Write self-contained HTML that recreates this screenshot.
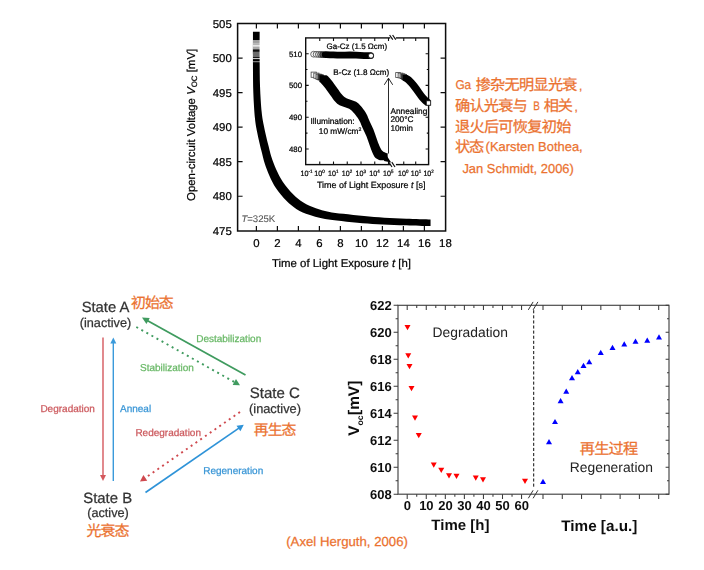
<!DOCTYPE html>
<html><head><meta charset="utf-8"><title>LID</title>
<style>
html,body{margin:0;padding:0;background:#fff;}
body{width:704px;height:570px;overflow:hidden;font-family:"Liberation Sans",sans-serif;}
svg{display:block;position:absolute;left:0;top:0;}
svg text{font-family:"Liberation Sans",sans-serif;text-rendering:geometricPrecision;}
svg text.cjk{font-family:"Liberation Sans","Noto Sans CJK SC",sans-serif;}
.tk text{stroke:#000;stroke-width:0.22px;fill:#000;}
.dg text{stroke-width:0.25px;}
.og text{stroke:#EB7230;stroke-width:0.25px;}
.tk text.gr{fill:#555;stroke:#555;stroke-width:0.1px;}
</style></head><body>
<svg width="704" height="570" viewBox="0 0 704 570">
<filter id="b1" x="-5%" y="-5%" width="110%" height="110%"><feGaussianBlur stdDeviation="0.65"/></filter>
<filter id="b2" x="-5%" y="-5%" width="110%" height="110%"><feGaussianBlur stdDeviation="0.75"/></filter>
<filter id="b0" x="-5%" y="-5%" width="110%" height="110%"><feGaussianBlur stdDeviation="0.3"/></filter>
<g class="tk" filter="url(#b1)"><rect x="237.60" y="23.50" width="208.00" height="207.50" fill="none" stroke="#111" stroke-width="1.5"/>
<path d="M256.40 23.50 v5 M256.40 231.00 v-5 M277.40 23.50 v5 M277.40 231.00 v-5 M298.40 23.50 v5 M298.40 231.00 v-5 M319.40 23.50 v5 M319.40 231.00 v-5 M340.40 23.50 v5 M340.40 231.00 v-5 M361.40 23.50 v5 M361.40 231.00 v-5 M382.40 23.50 v5 M382.40 231.00 v-5 M403.40 23.50 v5 M403.40 231.00 v-5 M424.40 23.50 v5 M424.40 231.00 v-5 M237.60 58.05 h5 M445.60 58.05 h-5 M237.60 92.60 h5 M445.60 92.60 h-5 M237.60 127.15 h5 M445.60 127.15 h-5 M237.60 161.70 h5 M445.60 161.70 h-5 M237.60 196.25 h5 M445.60 196.25 h-5" stroke="#111" stroke-width="1.2" fill="none"/>
<text x="231.80" y="27.60" font-size="11.40" fill="#222" text-anchor="end" font-weight="normal" font-style="normal" >505</text>
<text x="231.80" y="62.15" font-size="11.40" fill="#222" text-anchor="end" font-weight="normal" font-style="normal" >500</text>
<text x="231.80" y="96.70" font-size="11.40" fill="#222" text-anchor="end" font-weight="normal" font-style="normal" >495</text>
<text x="231.80" y="131.25" font-size="11.40" fill="#222" text-anchor="end" font-weight="normal" font-style="normal" >490</text>
<text x="231.80" y="165.80" font-size="11.40" fill="#222" text-anchor="end" font-weight="normal" font-style="normal" >485</text>
<text x="231.80" y="200.35" font-size="11.40" fill="#222" text-anchor="end" font-weight="normal" font-style="normal" >480</text>
<text x="231.80" y="234.90" font-size="11.40" fill="#222" text-anchor="end" font-weight="normal" font-style="normal" >475</text>
<text x="256.40" y="246.90" font-size="11.40" fill="#222" text-anchor="middle" font-weight="normal" font-style="normal" >0</text>
<text x="277.40" y="246.90" font-size="11.40" fill="#222" text-anchor="middle" font-weight="normal" font-style="normal" >2</text>
<text x="298.40" y="246.90" font-size="11.40" fill="#222" text-anchor="middle" font-weight="normal" font-style="normal" >4</text>
<text x="319.40" y="246.90" font-size="11.40" fill="#222" text-anchor="middle" font-weight="normal" font-style="normal" >6</text>
<text x="340.40" y="246.90" font-size="11.40" fill="#222" text-anchor="middle" font-weight="normal" font-style="normal" >8</text>
<text x="361.40" y="246.90" font-size="11.40" fill="#222" text-anchor="middle" font-weight="normal" font-style="normal" >10</text>
<text x="382.40" y="246.90" font-size="11.40" fill="#222" text-anchor="middle" font-weight="normal" font-style="normal" >12</text>
<text x="403.40" y="246.90" font-size="11.40" fill="#222" text-anchor="middle" font-weight="normal" font-style="normal" >14</text>
<text x="424.40" y="246.90" font-size="11.40" fill="#222" text-anchor="middle" font-weight="normal" font-style="normal" >16</text>
<text x="445.40" y="246.90" font-size="11.40" fill="#222" text-anchor="middle" font-weight="normal" font-style="normal" >18</text>
<text x="341.50" y="266.60" font-size="11.40" fill="#222" text-anchor="middle" font-weight="normal" font-style="normal" >Time of Light Exposure <tspan font-style="italic">t</tspan> [h]</text>
<g transform="translate(194.5 124.9) rotate(-90)"><text x="0.00" y="0.00" font-size="11.45" fill="#222" text-anchor="middle" font-weight="normal" font-style="normal" >Open-circuit Voltage <tspan font-style="italic">V</tspan><tspan font-size="7.8" dy="2.6">OC</tspan><tspan dy="-2.6"> [mV]</tspan></text></g>
<text x="241.40" y="222.20" font-size="9.60" fill="#555" text-anchor="start" font-weight="normal" font-style="normal" class="gr"><tspan font-style="italic">T</tspan>=325K</text>
<path d="M252.95 31.85 L259.65 31.85 C259.65 36.32 259.58 49.52 259.65 58.65 C259.72 67.78 259.72 77.82 260.05 86.65 C260.38 95.48 261.05 105.32 261.65 111.65 C262.25 117.98 262.88 120.48 263.65 124.65 C264.42 128.82 265.40 132.98 266.25 136.65 C267.10 140.32 267.90 143.32 268.75 146.65 C269.60 149.98 270.12 152.90 271.35 156.65 C272.58 160.40 274.20 164.98 276.10 169.15 C278.00 173.32 279.92 177.48 282.75 181.65 C285.58 185.82 289.67 190.68 293.10 194.15 C296.53 197.62 299.56 200.12 303.35 202.45 C307.14 204.78 311.68 206.62 315.85 208.15 C320.02 209.68 323.77 210.70 328.35 211.65 C332.93 212.60 337.40 213.12 343.35 213.85 C349.30 214.58 357.22 215.42 364.05 216.05 C370.88 216.68 377.30 217.22 384.35 217.65 C391.40 218.08 398.65 218.36 406.35 218.65 C414.05 218.94 426.52 219.28 430.55 219.40 L430.55 226.10 L423.85 226.10 C419.82 225.97 407.35 225.64 399.65 225.35 C391.95 225.06 384.70 224.78 377.65 224.35 C370.60 223.92 364.18 223.38 357.35 222.75 C350.52 222.12 342.60 221.28 336.65 220.55 C330.70 219.82 326.23 219.30 321.65 218.35 C317.07 217.40 313.32 216.38 309.15 214.85 C304.98 213.32 300.44 211.48 296.65 209.15 C292.86 206.82 289.83 204.32 286.40 200.85 C282.97 197.38 278.88 192.52 276.05 188.35 C273.22 184.18 271.30 180.02 269.40 175.85 C267.50 171.68 265.88 167.10 264.65 163.35 C263.42 159.60 262.90 156.68 262.05 153.35 C261.20 150.02 260.40 147.02 259.55 143.35 C258.70 139.68 257.72 135.52 256.95 131.35 C256.18 127.18 255.55 124.68 254.95 118.35 C254.35 112.02 253.68 102.18 253.35 93.35 C253.02 84.52 253.02 74.48 252.95 65.35 C252.88 56.22 252.95 43.02 252.95 38.55 Z" fill="#000"/>
<rect x="252.6" y="40.00" width="7.4" height="2.40" fill="#fff" opacity="0.62"/>
<rect x="252.6" y="42.40" width="7.4" height="1.40" fill="#fff" opacity="0.85"/>
<rect x="252.6" y="43.80" width="7.4" height="0.50" fill="#fff" opacity="0.70"/>
<rect x="252.6" y="44.30" width="7.4" height="2.60" fill="#fff" opacity="0.90"/>
<rect x="252.6" y="46.90" width="7.4" height="2.20" fill="#fff" opacity="0.66"/>
<rect x="252.6" y="49.10" width="7.4" height="1.00" fill="#fff" opacity="0.30"/>
<rect x="252.6" y="51.60" width="7.4" height="5.40" fill="#fff" opacity="0.42"/>
<rect x="252.6" y="57.90" width="7.4" height="1.20" fill="#fff" opacity="0.78"/>
<rect x="252.6" y="61.30" width="7.4" height="0.90" fill="#fff" opacity="0.70"/>
<rect x="305.70" y="37.90" width="122.90" height="126.70" fill="#fff" stroke="#111" stroke-width="1.4"/>
<path d="M319.75 37.90 v3.2 M319.75 164.60 v-3.2 M333.50 37.90 v3.2 M333.50 164.60 v-3.2 M347.25 37.90 v3.2 M347.25 164.60 v-3.2 M361.00 37.90 v3.2 M361.00 164.60 v-3.2 M374.75 37.90 v3.2 M374.75 164.60 v-3.2 M388.50 37.90 v3.2 M388.50 164.60 v-3.2 M403.75 37.90 v3.2 M403.75 164.60 v-3.2 M415.70 37.90 v3.2 M415.70 164.60 v-3.2 M305.70 53.70 h3 M428.60 53.70 h-3 M305.70 85.40 h3 M428.60 85.40 h-3 M305.70 117.20 h3 M428.60 117.20 h-3 M305.70 149.00 h3 M428.60 149.00 h-3 M305.70 69.50 h1.8 M428.60 69.50 h-1.8 M305.70 101.30 h1.8 M428.60 101.30 h-1.8 M305.70 133.10 h1.8 M428.60 133.10 h-1.8" stroke="#111" stroke-width="1.1" fill="none"/>
<text x="302.00" y="56.50" font-size="7.80" fill="#222" text-anchor="end" font-weight="normal" font-style="normal" >510</text>
<text x="302.00" y="88.20" font-size="7.80" fill="#222" text-anchor="end" font-weight="normal" font-style="normal" >500</text>
<text x="302.00" y="120.00" font-size="7.80" fill="#222" text-anchor="end" font-weight="normal" font-style="normal" >490</text>
<text x="302.00" y="151.80" font-size="7.80" fill="#222" text-anchor="end" font-weight="normal" font-style="normal" >480</text>
<rect x="390.3" y="36" width="5.6" height="3.6" fill="#fff"/>
<rect x="390.3" y="162.6" width="5.6" height="3.6" fill="#fff"/>
<path d="M389.6 35 l3.2 4.6 M392.6 35 l3.2 4.6 M388.8 162.2 l3.2 4.8 M391.8 162.2 l3.2 4.8" stroke="#111" stroke-width="1.2" fill="none"/>
<text x="306.50" y="175.70" font-size="7.70" fill="#222" text-anchor="middle" font-weight="normal" font-style="normal" textLength="12.0" lengthAdjust="spacingAndGlyphs">10<tspan font-size="4.8" dy="-3.0">-1</tspan></text>
<text x="319.50" y="175.70" font-size="7.70" fill="#222" text-anchor="middle" font-weight="normal" font-style="normal" textLength="10.4" lengthAdjust="spacingAndGlyphs">10<tspan font-size="4.8" dy="-3.0">0</tspan></text>
<text x="333.30" y="175.70" font-size="7.70" fill="#222" text-anchor="middle" font-weight="normal" font-style="normal" textLength="10.4" lengthAdjust="spacingAndGlyphs">10<tspan font-size="4.8" dy="-3.0">1</tspan></text>
<text x="347.00" y="175.70" font-size="7.70" fill="#222" text-anchor="middle" font-weight="normal" font-style="normal" textLength="10.4" lengthAdjust="spacingAndGlyphs">10<tspan font-size="4.8" dy="-3.0">2</tspan></text>
<text x="360.80" y="175.70" font-size="7.70" fill="#222" text-anchor="middle" font-weight="normal" font-style="normal" textLength="10.4" lengthAdjust="spacingAndGlyphs">10<tspan font-size="4.8" dy="-3.0">3</tspan></text>
<text x="374.50" y="175.70" font-size="7.70" fill="#222" text-anchor="middle" font-weight="normal" font-style="normal" textLength="10.4" lengthAdjust="spacingAndGlyphs">10<tspan font-size="4.8" dy="-3.0">4</tspan></text>
<text x="388.30" y="175.70" font-size="7.70" fill="#222" text-anchor="middle" font-weight="normal" font-style="normal" textLength="10.4" lengthAdjust="spacingAndGlyphs">10<tspan font-size="4.8" dy="-3.0">5</tspan></text>
<text x="403.20" y="175.70" font-size="7.70" fill="#222" text-anchor="middle" font-weight="normal" font-style="normal" textLength="10.4" lengthAdjust="spacingAndGlyphs">10<tspan font-size="4.8" dy="-3.0">0</tspan></text>
<text x="416.00" y="175.70" font-size="7.70" fill="#222" text-anchor="middle" font-weight="normal" font-style="normal" textLength="10.4" lengthAdjust="spacingAndGlyphs">10<tspan font-size="4.8" dy="-3.0">1</tspan></text>
<text x="428.60" y="175.70" font-size="7.70" fill="#222" text-anchor="middle" font-weight="normal" font-style="normal" textLength="10.4" lengthAdjust="spacingAndGlyphs">10<tspan font-size="4.8" dy="-3.0">2</tspan></text>
<text x="371.20" y="187.70" font-size="8.95" fill="#222" text-anchor="middle" font-weight="normal" font-style="normal" >Time of Light Exposure <tspan font-style="italic">t</tspan> [s]</text>
<text x="356.80" y="49.20" font-size="8.00" fill="#222" text-anchor="middle" font-weight="normal" font-style="normal" >Ga-Cz (1.5 Ωcm)</text>
<text x="361.30" y="75.40" font-size="8.10" fill="#222" text-anchor="middle" font-weight="normal" font-style="normal" >B-Cz (1.8 Ωcm)</text>
<text x="310.40" y="124.00" font-size="8.30" fill="#222" text-anchor="start" font-weight="normal" font-style="normal" >Illumination:</text>
<text x="318.80" y="134.30" font-size="8.30" fill="#222" text-anchor="start" font-weight="normal" font-style="normal" >10 mW/cm<tspan font-size="5.2" dy="-3">2</tspan></text>
<text x="390.40" y="113.50" font-size="8.30" fill="#222" text-anchor="start" font-weight="normal" font-style="normal" >Annealing</text>
<text x="390.40" y="122.10" font-size="8.30" fill="#222" text-anchor="start" font-weight="normal" font-style="normal" >200°C</text>
<text x="390.40" y="131.40" font-size="8.30" fill="#222" text-anchor="start" font-weight="normal" font-style="normal" >10min</text>
<circle cx="313.60" cy="54.20" r="2.9" fill="#fff" stroke="#444" stroke-width="0.8"/>
<circle cx="316.10" cy="54.30" r="2.9" fill="#f4f4f4" stroke="#444" stroke-width="0.8"/>
<circle cx="318.40" cy="54.40" r="2.9" fill="#e4e4e4" stroke="#333" stroke-width="0.8"/>
<circle cx="320.60" cy="54.50" r="2.9" fill="#bbb" stroke="#222" stroke-width="0.8"/>
<circle cx="322.60" cy="54.60" r="2.9" fill="#555" stroke="#111" stroke-width="0.8"/>
<path d="M325.20 54.70 C326.00 54.72 327.53 54.72 330.00 54.80 C332.47 54.88 336.67 55.17 340.00 55.20 C343.33 55.23 346.67 54.97 350.00 55.00 C353.33 55.03 356.57 55.28 360.00 55.40 C363.43 55.52 368.83 55.65 370.60 55.70" stroke="#000" stroke-width="6.8" fill="none" stroke-linecap="round"/>
<circle cx="371.0" cy="55.7" r="2.6" fill="#fff" stroke="#111" stroke-width="1.0"/>
<rect x="311.10" y="72.10" width="5.2" height="5.2" fill="#fff" stroke="#444" stroke-width="0.8"/>
<rect x="313.80" y="73.10" width="5.2" height="5.2" fill="#f0f0f0" stroke="#444" stroke-width="0.8"/>
<rect x="316.00" y="74.10" width="5.2" height="5.2" fill="#ccc" stroke="#333" stroke-width="0.8"/>
<rect x="318.00" y="74.80" width="5.2" height="5.2" fill="#555" stroke="#111" stroke-width="0.8"/>
<path d="M319.35 75.15 L326.25 75.15 C326.53 75.35 326.92 75.28 327.95 76.35 C328.98 77.42 330.87 79.52 332.45 81.55 C334.03 83.58 335.87 86.38 337.45 88.55 C339.03 90.72 340.45 92.92 341.95 94.55 C343.45 96.18 344.78 97.38 346.45 98.35 C348.12 99.32 350.12 99.62 351.95 100.35 C353.78 101.08 355.70 101.47 357.45 102.75 C359.20 104.03 360.95 106.17 362.45 108.05 C363.95 109.93 365.20 111.72 366.45 114.05 C367.70 116.38 368.78 119.47 369.95 122.05 C371.12 124.63 372.37 126.88 373.45 129.55 C374.53 132.22 375.48 135.38 376.45 138.05 C377.42 140.72 378.33 143.47 379.25 145.55 C380.17 147.63 380.92 149.35 381.95 150.55 C382.98 151.75 384.50 152.28 385.45 152.75 C386.40 153.22 387.28 153.25 387.65 153.35 L387.65 160.25 L380.75 160.25 C380.38 160.15 379.50 160.12 378.55 159.65 C377.60 159.18 376.08 158.65 375.05 157.45 C374.02 156.25 373.27 154.53 372.35 152.45 C371.43 150.37 370.52 147.62 369.55 144.95 C368.58 142.28 367.63 139.12 366.55 136.45 C365.47 133.78 364.22 131.53 363.05 128.95 C361.88 126.37 360.80 123.28 359.55 120.95 C358.30 118.62 357.05 116.83 355.55 114.95 C354.05 113.07 352.30 110.93 350.55 109.65 C348.80 108.37 346.88 107.98 345.05 107.25 C343.22 106.52 341.22 106.22 339.55 105.25 C337.88 104.28 336.55 103.08 335.05 101.45 C333.55 99.82 332.13 97.62 330.55 95.45 C328.97 93.28 327.13 90.48 325.55 88.45 C323.97 86.42 322.08 84.32 321.05 83.25 C320.02 82.18 319.63 82.25 319.35 82.05 Z" fill="#000"/>
<path d="M385 153.2 L391.2 162.6 L384 161 Z" fill="#000"/>
<path d="M388.5 153.5 V78.6 M384.3 84.8 L388.5 78.2 L392.7 84.8" stroke="#111" stroke-width="0.9" fill="none"/>
<rect x="395.70" y="72.60" width="4.8" height="4.8" fill="#fff" stroke="#444" stroke-width="0.8"/>
<rect x="398.10" y="73.10" width="4.8" height="4.8" fill="#f0f0f0" stroke="#444" stroke-width="0.8"/>
<rect x="400.10" y="73.80" width="4.8" height="4.8" fill="#ccc" stroke="#333" stroke-width="0.8"/>
<rect x="401.60" y="74.50" width="4.8" height="4.8" fill="#777" stroke="#222" stroke-width="0.8"/>
<path d="M402.35 74.95 L407.65 74.95 C408.32 75.42 410.15 76.35 411.65 77.75 C413.15 79.15 414.98 81.28 416.65 83.35 C418.32 85.42 419.98 87.95 421.65 90.15 C423.32 92.35 425.15 94.88 426.65 96.55 C428.15 98.22 429.98 99.55 430.65 100.15 L430.65 105.45 L425.35 105.45 C424.68 104.85 422.85 103.52 421.35 101.85 C419.85 100.18 418.02 97.65 416.35 95.45 C414.68 93.25 413.02 90.72 411.35 88.65 C409.68 86.58 407.85 84.45 406.35 83.05 C404.85 81.65 403.02 80.72 402.35 80.25 Z" fill="#000"/>
<rect x="426.3" y="100.8" width="4.4" height="4.4" fill="#fff" stroke="#111" stroke-width="0.8"/></g>
<g class="og"><text x="455.40" y="88.70" font-size="12.80" fill="#EB7230" text-anchor="start" font-weight="normal" font-style="normal" textLength="15.8" lengthAdjust="spacingAndGlyphs">Ga</text>
<text class="cjk" x="475.67" y="89.70" font-size="15.2" fill="#EB7230" text-anchor="start" textLength="101.85" lengthAdjust="spacing">掺杂无明显光衰</text>
<text x="579.00" y="90.40" font-size="12.00" fill="#EB7230" text-anchor="start" font-weight="normal" font-style="normal" >,</text>
<text class="cjk" x="454.97" y="110.70" font-size="15.2" fill="#EB7230" text-anchor="start" textLength="72.75" lengthAdjust="spacing">确认光衰与</text>
<text x="533.20" y="109.80" font-size="12.40" fill="#EB7230" text-anchor="start" font-weight="normal" font-style="normal" textLength="6.6" lengthAdjust="spacingAndGlyphs">B</text>
<text class="cjk" x="543.87" y="110.70" font-size="15.2" fill="#EB7230" text-anchor="start" textLength="29.1" lengthAdjust="spacing">相关</text>
<text x="574.60" y="111.40" font-size="12.00" fill="#EB7230" text-anchor="start" font-weight="normal" font-style="normal" >,</text>
<text class="cjk" x="454.97" y="131.50" font-size="15.2" fill="#EB7230" text-anchor="start" textLength="116.4" lengthAdjust="spacing">退火后可恢复初始</text>
<text class="cjk" x="454.97" y="152.10" font-size="15.2" fill="#EB7230" text-anchor="start" textLength="29.1" lengthAdjust="spacing">状态</text>
<text x="485.60" y="151.40" font-size="12.95" fill="#EB7230" text-anchor="start" font-weight="normal" font-style="normal" >(Karsten Bothea,</text>
<text x="462.40" y="172.90" font-size="12.95" fill="#EB7230" text-anchor="start" font-weight="normal" font-style="normal" >Jan Schmidt, 2006)</text>
<text x="286.20" y="545.90" font-size="13.20" fill="#EB7230" text-anchor="start" font-weight="normal" font-style="normal" >(Axel Herguth, 2006)</text>
<text class="cjk" x="131.08" y="307.80" font-size="14.84" fill="#EB7230" text-anchor="start" textLength="42.6" lengthAdjust="spacing">初始态</text>
<text class="cjk" x="253.78" y="435.20" font-size="14.84" fill="#EB7230" text-anchor="start" textLength="42.6" lengthAdjust="spacing">再生态</text>
<text class="cjk" x="86.48" y="536.30" font-size="14.94" fill="#EB7230" text-anchor="start" textLength="42.9" lengthAdjust="spacing">光衰态</text>
<text class="cjk" x="579.87" y="453.90" font-size="15.2" fill="#EB7230" text-anchor="start" textLength="58.2" lengthAdjust="spacing">再生过程</text></g>
<g class="dg" filter="url(#b2)"><text x="105.50" y="312.20" font-size="14.80" fill="#333" text-anchor="middle" font-weight="normal" font-style="normal" stroke="#333">State A</text>
<text x="105.50" y="327.40" font-size="12.70" fill="#333" text-anchor="middle" font-weight="normal" font-style="normal" stroke="#333">(inactive)</text>
<text x="107.70" y="502.80" font-size="14.90" fill="#333" text-anchor="middle" font-weight="normal" font-style="normal" stroke="#333">State B</text>
<text x="108.00" y="517.40" font-size="12.70" fill="#333" text-anchor="middle" font-weight="normal" font-style="normal" stroke="#333">(active)</text>
<text x="274.80" y="398.40" font-size="15.00" fill="#333" text-anchor="middle" font-weight="normal" font-style="normal" stroke="#333">State C</text>
<text x="275.00" y="413.40" font-size="12.80" fill="#333" text-anchor="middle" font-weight="normal" font-style="normal" stroke="#333">(inactive)</text>
<text x="40.40" y="412.20" font-size="10.00" fill="#cc5a5e" text-anchor="start" font-weight="normal" font-style="normal" stroke="#cc5a5e">Degradation</text>
<text x="120.00" y="412.20" font-size="10.00" fill="#3a96d6" text-anchor="start" font-weight="normal" font-style="normal" stroke="#3a96d6">Anneal</text>
<text x="196.20" y="341.60" font-size="10.00" fill="#69b867" text-anchor="start" font-weight="normal" font-style="normal" stroke="#69b867">Destabilization</text>
<text x="140.00" y="371.00" font-size="10.00" fill="#69b867" text-anchor="start" font-weight="normal" font-style="normal" stroke="#69b867">Stabilization</text>
<text x="135.40" y="436.00" font-size="10.00" fill="#cc5a5e" text-anchor="start" font-weight="normal" font-style="normal" stroke="#cc5a5e">Redegradation</text>
<text x="203.20" y="474.20" font-size="10.00" fill="#3a96d6" text-anchor="start" font-weight="normal" font-style="normal" stroke="#3a96d6">Regeneration</text>
<path d="M103.00 337.50 L103.00 476.00" stroke="#d4585d" stroke-width="1.40" fill="none"/><path d="M103.00 481.00 L100.00 475.00 L106.00 475.00 Z" fill="#d4585d"/>
<path d="M113.30 481.00 L113.30 342.50" stroke="#3a9adb" stroke-width="1.40" fill="none"/><path d="M113.30 337.50 L116.30 343.50 L110.30 343.50 Z" fill="#3a9adb"/>
<path d="M245.50 375.00 L147.25 320.51" stroke="#3f9b5f" stroke-width="1.80" fill="none"/><path d="M142.00 317.60 L149.77 318.02 L146.47 323.97 Z" fill="#3f9b5f"/>
<path d="M136.30 327.00 L235.20 382.51" stroke="#3f9b5f" stroke-width="1.90" fill="none" stroke-dasharray="2 3.8"/><path d="M240.00 385.20 L232.67 384.98 L236.00 379.05 Z" fill="#3f9b5f"/>
<path d="M240.00 412.00 L144.51 478.46" stroke="#cf4a4f" stroke-width="1.90" fill="none" stroke-dasharray="2 3.8"/><path d="M140.00 481.60 L143.39 475.10 L147.28 480.68 Z" fill="#cf4a4f"/>
<path d="M145.50 492.50 L239.27 427.92" stroke="#2f93d8" stroke-width="1.70" fill="none"/><path d="M243.80 424.80 L240.38 431.29 L236.52 425.69 Z" fill="#2f93d8"/></g>
<g filter="url(#b0)"><rect x="398.00" y="305.30" width="271.00" height="188.90" fill="none" stroke="#444" stroke-width="1.15"/>
<path d="M398.00 305.30 h-4.4 M669.00 305.30 h-3.4 M398.00 318.79 h-2.4 M669.00 318.79 h-2.0 M398.00 332.29 h-4.4 M669.00 332.29 h-3.4 M398.00 345.78 h-2.4 M669.00 345.78 h-2.0 M398.00 359.27 h-4.4 M669.00 359.27 h-3.4 M398.00 372.76 h-2.4 M669.00 372.76 h-2.0 M398.00 386.26 h-4.4 M669.00 386.26 h-3.4 M398.00 399.75 h-2.4 M669.00 399.75 h-2.0 M398.00 413.24 h-4.4 M669.00 413.24 h-3.4 M398.00 426.74 h-2.4 M669.00 426.74 h-2.0 M398.00 440.23 h-4.4 M669.00 440.23 h-3.4 M398.00 453.72 h-2.4 M669.00 453.72 h-2.0 M398.00 467.21 h-4.4 M669.00 467.21 h-3.4 M398.00 480.71 h-2.4 M669.00 480.71 h-2.0 M398.00 494.20 h-4.4 M669.00 494.20 h-3.4 M407.20 305.30 v4.8 M407.20 494.20 v4.8 M416.73 305.30 v2.6 M416.73 494.20 v2.6 M426.26 305.30 v4.8 M426.26 494.20 v4.8 M435.79 305.30 v2.6 M435.79 494.20 v2.6 M445.32 305.30 v4.8 M445.32 494.20 v4.8 M454.85 305.30 v2.6 M454.85 494.20 v2.6 M464.38 305.30 v4.8 M464.38 494.20 v4.8 M473.91 305.30 v2.6 M473.91 494.20 v2.6 M483.44 305.30 v4.8 M483.44 494.20 v4.8 M492.97 305.30 v2.6 M492.97 494.20 v2.6 M502.50 305.30 v4.8 M502.50 494.20 v4.8 M512.03 305.30 v2.6 M512.03 494.20 v2.6 M521.56 305.30 v4.8 M521.56 494.20 v4.8 M543.00 305.30 v4.8 M543.00 494.20 v4.8 M562.28 305.30 v4.8 M562.28 494.20 v4.8 M581.56 305.30 v4.8 M581.56 494.20 v4.8 M600.84 305.30 v4.8 M600.84 494.20 v4.8 M620.12 305.30 v4.8 M620.12 494.20 v4.8 M639.40 305.30 v4.8 M639.40 494.20 v4.8 M658.68 305.30 v4.8 M658.68 494.20 v4.8" stroke="#3a3a3a" stroke-width="1.05" fill="none"/>
<path d="M528.3 309.9 l4.8 -8 M533.1 309.9 l4.8 -8 M528.3 498.3 l4.8 -8 M533.1 498.3 l4.8 -8" stroke="#333" stroke-width="1.0" fill="none"/>
<path d="M533.7 310.2 V487" stroke="#111" stroke-width="1.0" stroke-dasharray="3.1 2" fill="none"/>
<text x="391.80" y="309.90" font-size="13.00" fill="#111" text-anchor="end" font-weight="bold" font-style="normal" >622</text>
<text x="391.80" y="336.89" font-size="13.00" fill="#111" text-anchor="end" font-weight="bold" font-style="normal" >620</text>
<text x="391.80" y="363.87" font-size="13.00" fill="#111" text-anchor="end" font-weight="bold" font-style="normal" >618</text>
<text x="391.80" y="390.86" font-size="13.00" fill="#111" text-anchor="end" font-weight="bold" font-style="normal" >616</text>
<text x="391.80" y="417.84" font-size="13.00" fill="#111" text-anchor="end" font-weight="bold" font-style="normal" >614</text>
<text x="391.80" y="444.83" font-size="13.00" fill="#111" text-anchor="end" font-weight="bold" font-style="normal" >612</text>
<text x="391.80" y="471.81" font-size="13.00" fill="#111" text-anchor="end" font-weight="bold" font-style="normal" >610</text>
<text x="391.80" y="498.80" font-size="13.00" fill="#111" text-anchor="end" font-weight="bold" font-style="normal" >608</text>
<text x="407.30" y="510.20" font-size="13.00" fill="#111" text-anchor="middle" font-weight="bold" font-style="normal" >0</text>
<text x="426.36" y="510.20" font-size="13.00" fill="#111" text-anchor="middle" font-weight="bold" font-style="normal" >10</text>
<text x="445.42" y="510.20" font-size="13.00" fill="#111" text-anchor="middle" font-weight="bold" font-style="normal" >20</text>
<text x="464.48" y="510.20" font-size="13.00" fill="#111" text-anchor="middle" font-weight="bold" font-style="normal" >30</text>
<text x="483.54" y="510.20" font-size="13.00" fill="#111" text-anchor="middle" font-weight="bold" font-style="normal" >40</text>
<text x="502.60" y="510.20" font-size="13.00" fill="#111" text-anchor="middle" font-weight="bold" font-style="normal" >50</text>
<text x="521.66" y="510.20" font-size="13.00" fill="#111" text-anchor="middle" font-weight="bold" font-style="normal" >60</text>
<text x="460.40" y="529.90" font-size="15.00" fill="#111" text-anchor="middle" font-weight="bold" font-style="normal" >Time [h]</text>
<text x="599.30" y="530.80" font-size="15.25" fill="#111" text-anchor="middle" font-weight="bold" font-style="normal" >Time [a.u.]</text>
<g transform="translate(358.6 408.3) rotate(-90)"><text x="0.00" y="0.00" font-size="15.40" fill="#111" text-anchor="middle" font-weight="bold" font-style="normal" >V<tspan font-size="8.6" dy="4.2">oc</tspan><tspan dy="-4.2" dx="0.6">[mV]</tspan></text></g>
<text x="432.60" y="336.90" font-size="13.85" fill="#222" text-anchor="start" font-weight="normal" font-style="normal" >Degradation</text>
<text x="569.80" y="471.70" font-size="13.85" fill="#222" text-anchor="start" font-weight="normal" font-style="normal" >Regeneration</text>
<path d="M404.50 325.10 h6 l-3 5.2 Z" fill="#f00"/>
<path d="M405.25 353.35 h6 l-3 5.2 Z" fill="#f00"/>
<path d="M406.50 364.10 h6 l-3 5.2 Z" fill="#f00"/>
<path d="M408.50 386.10 h6 l-3 5.2 Z" fill="#f00"/>
<path d="M412.00 415.60 h6 l-3 5.2 Z" fill="#f00"/>
<path d="M415.75 433.10 h6 l-3 5.2 Z" fill="#f00"/>
<path d="M430.75 462.60 h6 l-3 5.2 Z" fill="#f00"/>
<path d="M438.25 467.85 h6 l-3 5.2 Z" fill="#f00"/>
<path d="M446.00 473.35 h6 l-3 5.2 Z" fill="#f00"/>
<path d="M453.50 473.85 h6 l-3 5.2 Z" fill="#f00"/>
<path d="M472.75 475.60 h6 l-3 5.2 Z" fill="#f00"/>
<path d="M480.00 477.35 h6 l-3 5.2 Z" fill="#f00"/>
<path d="M522.00 478.85 h6 l-3 5.2 Z" fill="#f00"/>
<path d="M540.00 483.90 h6 l-3 -5.2 Z" fill="#00f"/>
<path d="M546.00 444.15 h6 l-3 -5.2 Z" fill="#00f"/>
<path d="M552.00 424.10 h6 l-3 -5.2 Z" fill="#00f"/>
<path d="M557.60 403.20 h6 l-3 -5.2 Z" fill="#00f"/>
<path d="M563.25 393.65 h6 l-3 -5.2 Z" fill="#00f"/>
<path d="M569.00 380.15 h6 l-3 -5.2 Z" fill="#00f"/>
<path d="M574.75 374.15 h6 l-3 -5.2 Z" fill="#00f"/>
<path d="M580.50 367.90 h6 l-3 -5.2 Z" fill="#00f"/>
<path d="M586.25 364.15 h6 l-3 -5.2 Z" fill="#00f"/>
<path d="M597.75 354.90 h6 l-3 -5.2 Z" fill="#00f"/>
<path d="M609.50 349.90 h6 l-3 -5.2 Z" fill="#00f"/>
<path d="M621.25 346.40 h6 l-3 -5.2 Z" fill="#00f"/>
<path d="M632.50 343.65 h6 l-3 -5.2 Z" fill="#00f"/>
<path d="M644.25 342.65 h6 l-3 -5.2 Z" fill="#00f"/>
<path d="M656.00 339.40 h6 l-3 -5.2 Z" fill="#00f"/></g>
</svg>
</body></html>
